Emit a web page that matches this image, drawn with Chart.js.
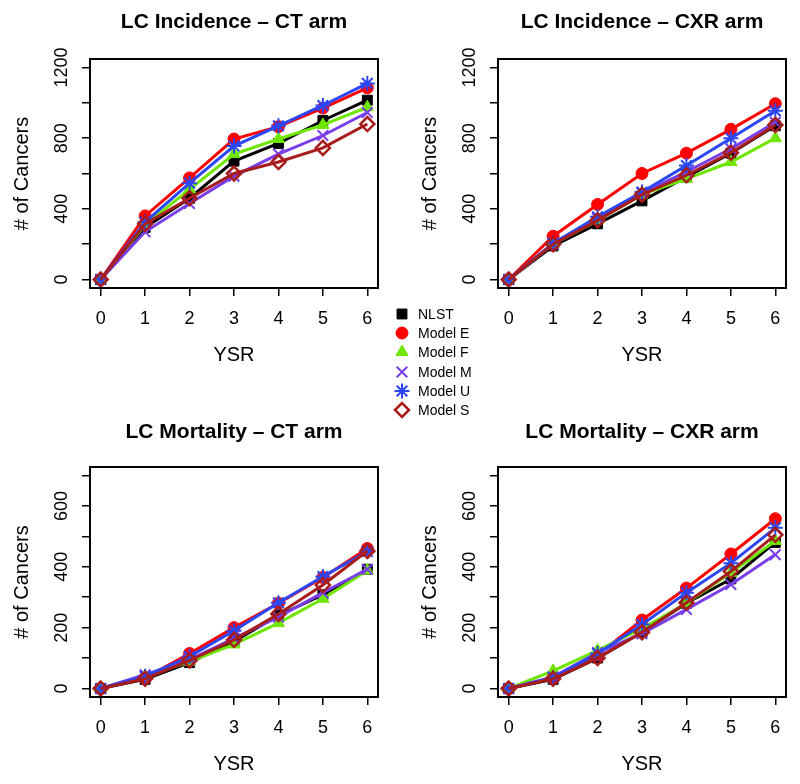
<!DOCTYPE html>
<html>
<head>
<meta charset="utf-8">
<script src="https://cdn.jsdelivr.net/npm/chart.js@4"></script>
<style>
  body { margin: 0; background: #fff; }
  #wrap { position: relative; width: 800px; height: 784px; background: #fff; font-family: "Liberation Sans", Arial, sans-serif; }
  .panel { position: absolute; width: 400px; height: 392px; }
  #legend { position: absolute; left: 392px; top: 304px; }
  .row { height: 19.3px; display: flex; align-items: center; font-size: 14px; color: #000; }
  .row canvas { margin-right: 6px; }
</style>
</head>
<body>
<div id="wrap">
  <div class="panel" style="left:0;top:0"><canvas id="c1" width="400" height="392"></canvas></div>
  <div class="panel" style="left:400px;top:0"><canvas id="c2" width="400" height="392"></canvas></div>
  <div class="panel" style="left:0;top:392px"><canvas id="c3" width="400" height="392"></canvas></div>
  <div class="panel" style="left:400px;top:392px"><canvas id="c4" width="400" height="392"></canvas></div>
  <div id="legend"></div>
</div>
<script>
const years = [0, 1, 2, 3, 4, 5, 6];
const seriesNames = ['NLST', 'Model E', 'Model F', 'Model M', 'Model U', 'Model S'];

// LC Incidence - CT arm
const incCT_NLST = [0, 295, 460, 670, 770, 900, 1015];
const incCT_E    = [0, 360, 575, 795, 865, 970, 1085];
const incCT_F    = [0, 310, 510, 710, 795, 875, 975];
const incCT_M    = [0, 270, 430, 585, 710, 815, 945];
const incCT_U    = [0, 325, 545, 755, 870, 985, 1110];
const incCT_S    = [0, 315, 460, 600, 665, 745, 880];

// LC Incidence - CXR arm
const incCXR_NLST = [0, 190, 315, 445, 580, 715, 870];
const incCXR_E    = [0, 245, 425, 600, 715, 850, 995];
const incCXR_F    = [0, 200, 335, 480, 570, 665, 800];
const incCXR_M    = [0, 200, 345, 490, 610, 740, 890];
const incCXR_U    = [0, 205, 355, 495, 645, 800, 955];
const incCXR_S    = [0, 200, 335, 480, 590, 718, 875];

// LC Mortality - CT arm
const morCT_NLST = [0, 30, 85, 155, 240, 308, 392];
const morCT_E    = [0, 35, 115, 200, 280, 365, 460];
const morCT_F    = [0, 40, 88, 145, 215, 295, 388];
const morCT_M    = [0, 45, 95, 165, 235, 315, 392];
const morCT_U    = [0, 40, 105, 190, 282, 368, 450];
const morCT_S    = [0, 32, 92, 160, 245, 340, 452];

// LC Mortality - CXR arm
const morCXR_NLST = [0, 30, 100, 185, 280, 360, 480];
const morCXR_E    = [0, 35, 110, 225, 330, 442, 558];
const morCXR_F    = [0, 58, 125, 197, 280, 380, 485];
const morCXR_M    = [0, 38, 118, 180, 260, 342, 440];
const morCXR_U    = [0, 35, 115, 210, 315, 412, 528];
const morCXR_S    = [0, 32, 100, 185, 282, 385, 505];

const xTicks = [0, 1, 2, 3, 4, 5, 6];
const incTicks = [0, 200, 400, 600, 800, 1000, 1200];
const incLabels = [0, 400, 800, 1200];
const morTicks = [0, 100, 200, 300, 400, 500, 600, 700];
const morLabels = [0, 200, 400, 600];

const FONT = '"Liberation Sans", Arial, sans-serif';

const styles = [
  { color: '#000000', pointStyle: 'rect',     radius: 7,   fill: true,  bw: 1 },
  { color: '#FF0000', pointStyle: 'circle',   radius: 6,   fill: true,  bw: 1 },
  { color: '#6EE600', pointStyle: 'triangle', radius: 7,   fill: true,  bw: 1 },
  { color: '#7A3EE8', pointStyle: 'crossRot', radius: 7.5, fill: false, bw: 2 },
  { color: '#2B47F5', pointStyle: 'star',     radius: 7.5, fill: false, bw: 2 },
  { color: '#A81C1C', pointStyle: 'rectRot',  radius: 7,   fill: false, bw: 2.5 }
];

const boxPlugin = {
  id: 'box',
  afterDatasetsDraw(chart) {
    const a = chart.chartArea;
    const ctx = chart.ctx;
    ctx.save();
    ctx.strokeStyle = '#000';
    ctx.lineWidth = 2;
    ctx.strokeRect(a.left, a.top, a.right - a.left, a.bottom - a.top);
    ctx.restore();
  }
};

function makeChart(id, title, series, yTicks, yLabels, yMax, g) {
  const datasets = series.map((vals, i) => {
    const s = styles[i];
    return {
      label: seriesNames[i],
      data: years.map((x, j) => ({ x: x, y: vals[j] })),
      borderColor: s.color,
      backgroundColor: s.fill ? s.color : 'rgba(0,0,0,0)',
      borderWidth: 3,
      pointStyle: s.pointStyle,
      pointRadius: s.radius,
      pointBorderWidth: s.bw,
      pointBorderColor: s.color,
      pointBackgroundColor: s.fill ? s.color : 'rgba(0,0,0,0)',
      tension: 0,
      order: 6 - i
    };
  });
  const pad = yMax * 0.04;
  new Chart(document.getElementById(id), {
    type: 'line',
    data: { datasets: datasets },
    plugins: [boxPlugin],
    options: {
      responsive: false,
      animation: false,
      layout: { padding: { left: 0, right: g.right, top: 0, bottom: 0 } },
      plugins: {
        legend: { display: false },
        tooltip: { enabled: false },
        title: {
          display: true,
          text: title,
          fullSize: false,
          color: '#000',
          font: { family: FONT, size: 21, weight: 'bold' },
          padding: { top: g.tTop, bottom: g.tBottom }
        }
      },
      scales: {
        x: {
          type: 'linear',
          min: -0.24,
          max: 6.24,
          afterBuildTicks: s => { s.ticks = xTicks.map(v => ({ value: v })); },
          afterFit: s => { s.height = g.xH; },
          border: { display: false },
          grid: { drawOnChartArea: false, drawTicks: true, tickLength: 8, color: '#000', lineWidth: 1.5 },
          ticks: { color: '#000', font: { family: FONT, size: 18 }, padding: 12, autoSkip: false, maxRotation: 0 },
          title: {
            display: true, text: 'YSR', color: '#000',
            font: { family: FONT, size: 20 },
            padding: { top: 0, bottom: g.xTitle }
          }
        },
        y: {
          min: -pad,
          max: yMax + pad,
          afterBuildTicks: s => { s.ticks = yTicks.map(v => ({ value: v })); },
          afterFit: s => { s.width = g.yW; },
          border: { display: false },
          grid: { drawOnChartArea: false, drawTicks: true, tickLength: 8, color: '#000', lineWidth: 1.5 },
          ticks: {
            color: '#000', font: { family: FONT, size: 18 },
            minRotation: 90, maxRotation: 90, crossAlign: 'center',
            padding: g.yPad, autoSkip: false,
            callback: v => (yLabels.includes(v) ? String(v) : '')
          },
          title: {
            display: true, text: '# of Cancers', color: '#000',
            font: { family: FONT, size: 20 },
            padding: { top: g.yTitle, bottom: 0 }
          }
        }
      }
    }
  });
}

makeChart('c1', 'LC Incidence \u2013 CT arm',
  [incCT_NLST, incCT_E, incCT_F, incCT_M, incCT_U, incCT_S], incTicks, incLabels, 1200,
  { yW: 90, xH: 104, right: 22, tTop: 9.4, tBottom: 24.4, yTitle: 10, xTitle: 25, yPad: 0 });
makeChart('c2', 'LC Incidence \u2013 CXR arm',
  [incCXR_NLST, incCXR_E, incCXR_F, incCXR_M, incCXR_U, incCXR_S], incTicks, incLabels, 1200,
  { yW: 98, xH: 104, right: 14, tTop: 9.4, tBottom: 24.4, yTitle: 18, xTitle: 25, yPad: 0 });
makeChart('c3', 'LC Mortality \u2013 CT arm',
  [morCT_NLST, morCT_E, morCT_F, morCT_M, morCT_U, morCT_S], morTicks, morLabels, 700,
  { yW: 90, xH: 87, right: 22, tTop: 27.4, tBottom: 22.4, yTitle: 10, xTitle: 8, yPad: 5 });
makeChart('c4', 'LC Mortality \u2013 CXR arm',
  [morCXR_NLST, morCXR_E, morCXR_F, morCXR_M, morCXR_U, morCXR_S], morTicks, morLabels, 700,
  { yW: 98, xH: 87, right: 14, tTop: 27.4, tBottom: 22.4, yTitle: 18, xTitle: 8, yPad: 5 });

// legend between the panels
const legend = document.getElementById('legend');
seriesNames.forEach((name, i) => {
  const s = styles[i];
  const row = document.createElement('div');
  row.className = 'row';
  const cv = document.createElement('canvas');
  cv.width = 20; cv.height = 20;
  const ctx = cv.getContext('2d');
  ctx.fillStyle = s.fill ? s.color : 'rgba(0,0,0,0)';
  ctx.strokeStyle = s.color;
  ctx.lineWidth = s.bw;
  Chart.helpers.drawPoint(ctx, { pointStyle: s.pointStyle, radius: s.radius, borderWidth: s.bw, rotation: 0 }, 10, 10);
  const span = document.createElement('span');
  span.textContent = name;
  row.appendChild(cv);
  row.appendChild(span);
  legend.appendChild(row);
});
</script>
</body>
</html>
